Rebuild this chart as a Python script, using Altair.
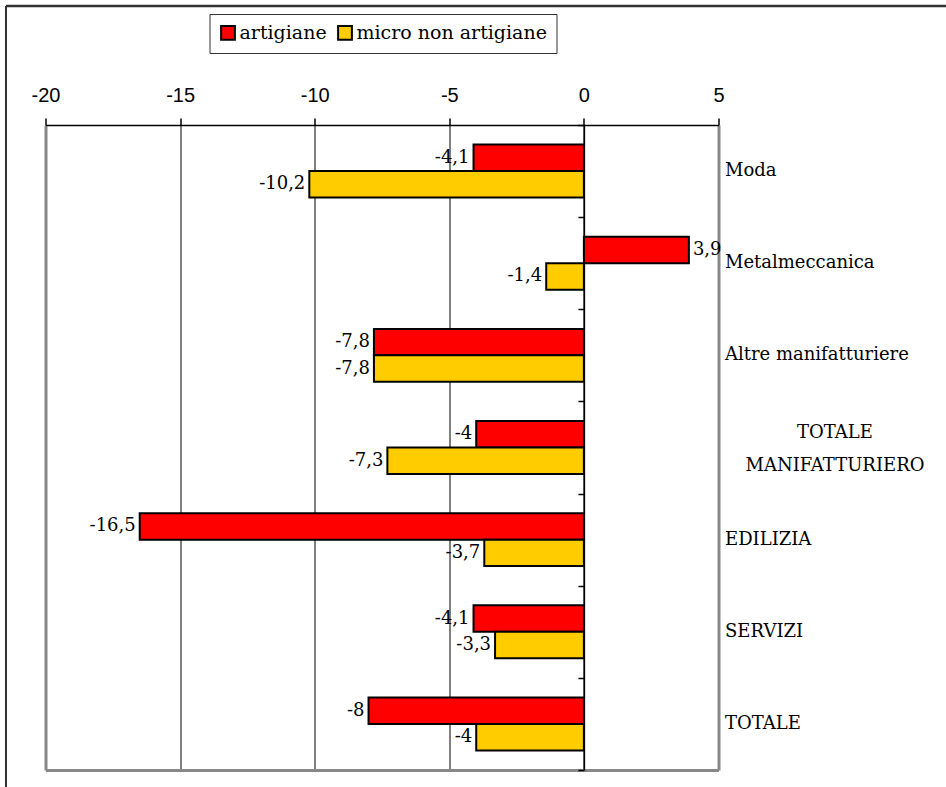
import altair as alt
import pandas as pd

# Variazione percentuale per settore: imprese artigiane e micro non artigiane
settori = ["Moda", "Metalmeccanica", "Altre manifatturiere", "TOTALE MANIFATTURIERO",
           "EDILIZIA", "SERVIZI", "TOTALE"]
artigiane = [-4.1, 3.9, -7.8, -4.0, -16.5, -4.1, -8.0]
micro_non_artigiane = [-10.2, -1.4, -7.8, -7.3, -3.7, -3.3, -4.0]
serie = ["artigiane", "micro non artigiane"]
colori = ["#FF0000", "#FFCC00"]
tick_x = [-20, -15, -10, -5, 0, 5]

rows = []
for s, a, m in zip(settori, artigiane, micro_non_artigiane):
    rows.append({"settore": s, "serie": serie[0], "valore": a})
    rows.append({"settore": s, "serie": serie[1], "valore": m})
df = pd.DataFrame(rows)

W, H = 673, 645
PAD_L, PAD_T = 45.5, 125
SERIF = "DejaVu Serif"
SANS = "Liberation Sans"

x_scale = alt.Scale(domain=[-20, 5], nice=False)
y_scale = alt.Scale(paddingInner=0, paddingOuter=0)
off_scale = alt.Scale(domain=serie, paddingInner=0, paddingOuter=0.74)

is_edge = "datum.value === -20 || datum.value === 5"
is_two_lines = "datum.value === 'TOTALE MANIFATTURIERO'"

base = alt.Chart(df)

bars = base.mark_bar(stroke="black", strokeWidth=2).encode(
    x=alt.X("valore:Q", scale=x_scale, stack=None, title=None,
            axis=alt.Axis(orient="top", values=tick_x, labelExpr="toString(datum.value)",
                          labelFlush=False, labelOverlap=False,
                          labelFont=SANS, labelFontSize=20,
                          labelColor="black", labelPadding=13, tickSize=7, tickColor="black",
                          tickWidth=1.5, domainColor="black", domainWidth=1.5,
                          grid=True,
                          gridColor={"condition": {"test": is_edge, "value": "#888888"},
                                     "value": "#000000"},
                          gridWidth={"condition": {"test": is_edge, "value": 3},
                                     "value": 1})),
    y=alt.Y("settore:N", sort=settori, scale=y_scale, title=None,
            axis=alt.Axis(orient="right", ticks=False, domain=False, grid=False,
                          labelFont=SERIF, labelFontSize=18, labelColor="black",
                          labelLimit=0, labelLineHeight=33,
                          labelExpr="datum.label === 'TOTALE MANIFATTURIERO' ? ['TOTALE', 'MANIFATTURIERO'] : datum.label",
                          labelAlign={"condition": {"test": is_two_lines, "value": "center"},
                                      "value": "left"},
                          labelOffset={"condition": {"test": is_two_lines, "value": -15},
                                       "value": 0},
                          labelPadding={"condition": {"test": is_two_lines, "value": 116},
                                        "value": 6})),
    yOffset=alt.YOffset("serie:N", sort=serie, scale=off_scale),
    color=alt.Color("serie:N", sort=serie, scale=alt.Scale(domain=serie, range=colori),
                    legend=alt.Legend(title=None, orient="none", legendX=164, legendY=-111,
                                      direction="horizontal", symbolType="square",
                                      symbolSize=190, symbolStrokeColor="black",
                                      symbolStrokeWidth=2, labelFont=SERIF, labelFontSize=19,
                                      labelColor="black", labelLimit=0,
                                      strokeColor="#333333", fillColor="white",
                                      padding=9, columnPadding=6, labelOffset=2,
                                      symbolOffset=0)),
)

labelled = base.transform_calculate(
    etichetta="replace(toString(datum.valore), '.', ',')"
)

neg_labels = labelled.transform_filter("datum.valore < 0").mark_text(
    align="right", baseline="middle", dx=-4, font=SERIF, fontSize=18, color="black"
).encode(
    x=alt.X("valore:Q", scale=x_scale, axis=None),
    y=alt.Y("settore:N", sort=settori, scale=y_scale, title=None,
            axis=alt.Axis(orient="left", offset=-W * 20 / 25, labels=False, grid=False,
                          tickBand="extent", tickSize=6, tickColor="black", tickWidth=1.5,
                          domain=True, domainColor="black", domainWidth=1.5)),
    yOffset=alt.YOffset("serie:N", sort=serie, scale=off_scale),
    text="etichetta:N",
)

pos_labels = labelled.transform_filter("datum.valore > 0").mark_text(
    align="left", baseline="middle", dx=4, font=SERIF, fontSize=18, color="black"
).encode(
    x=alt.X("valore:Q", scale=x_scale, title=None,
            axis=alt.Axis(orient="bottom", labels=False, ticks=False, grid=False,
                          domain=True, domainColor="#888888", domainWidth=3)),
    y=alt.Y("settore:N", sort=settori, scale=y_scale, axis=None),
    yOffset=alt.YOffset("serie:N", sort=serie, scale=off_scale),
    text="etichetta:N",
)

# Cornice esterna del grafico (lati superiore e sinistro)
frame_src = alt.Chart(pd.DataFrame({"k": [0]}))
frame_left = frame_src.mark_rule(color="#333333", strokeWidth=2).encode(
    x=alt.value(6 - PAD_L), y=alt.value(6 - PAD_T), y2=alt.value(H + 40)
)
frame_top = frame_src.mark_rule(color="#333333", strokeWidth=2.5).encode(
    x=alt.value(6 - PAD_L), x2=alt.value(W + 300), y=alt.value(6 - PAD_T)
)

chart = alt.layer(bars, neg_labels, pos_labels, frame_left, frame_top).resolve_axis(
    x="independent", y="independent"
).properties(
    width=W, height=H,
    autosize=alt.AutoSizeParams(type="none"),
    padding={"left": PAD_L, "top": PAD_T, "right": 946 - PAD_L - W, "bottom": 787 - PAD_T - H},
    background="white",
).configure_view(stroke=None)

chart.save("out.html", embed_options={"renderer": "svg", "actions": False})
